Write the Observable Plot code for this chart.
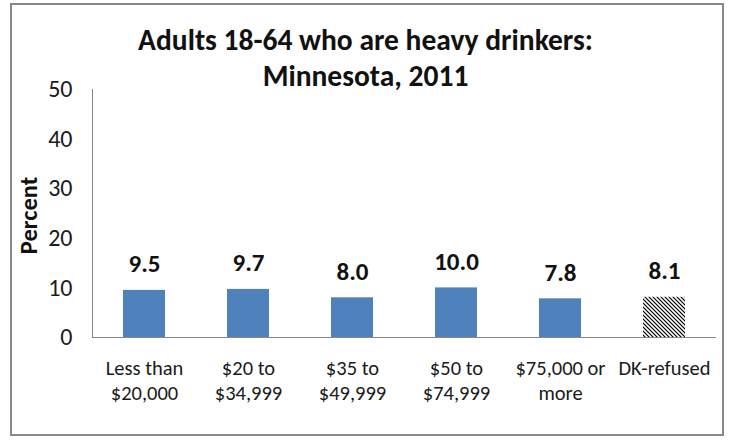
<!DOCTYPE html>
<html><head><meta charset="utf-8">
<script src="https://cdn.jsdelivr.net/npm/d3@7"></script>
<script src="https://cdn.jsdelivr.net/npm/@observablehq/plot@0.6"></script>
<style>
html,body{margin:0;padding:0;background:#fff;}
#wrap{position:relative;width:732px;height:443px;}
#border{position:absolute;left:10px;top:3px;width:710px;height:429px;border:2px solid #888;box-sizing:content-box;pointer-events:none;}
</style>
</head><body>
<div id="wrap"><div id="border"></div></div>
<script>
const categories = ["Less than\n$20,000", "$20 to\n$34,999", "$35 to\n$49,999", "$50 to\n$74,999", "$75,000 or\nmore", "DK-refused"];
const values = [9.5, 9.7, 8.0, 10.0, 7.8, 8.1];
const hatched = [false, false, false, false, false, true];
const yTicks = [0, 10, 20, 30, 40, 50];
const titleLines = "Adults 18-64 who are heavy drinkers:\nMinnesota, 2011";
const yLabel = "Percent";

const data = categories.map((c, i) => ({cat: c, value: values[i], hatch: hatched[i]}));
const font = "Carlito, Calibri, Lato, sans-serif";

const chart = Plot.plot({
  width: 732,
  height: 443,
  marginTop: 89,
  marginLeft: 92,
  marginRight: 16,
  marginBottom: 106,
  style: {fontFamily: font, color: "#111", background: "transparent"},
  x: {domain: categories, paddingInner: 0.596, paddingOuter: 0.298, label: null},
  y: {domain: [0, 50], label: null},
  marks: [
    Plot.frame({anchor: "left", stroke: "#868686"}),
    Plot.barY(data.filter(d => !d.hatch), {x: "cat", y: "value", fill: "#4F81BD"}),
    Plot.barY(data.filter(d => d.hatch), {x: "cat", y: "value", fill: "url(#hatch)"}),
    Plot.ruleY([0], {stroke: "#868686"}),
    Plot.axisY({ticks: yTicks, tickSize: 0, tickPadding: 20, fontSize: 24, fill: "#1a1a1a", label: null}),
    Plot.axisX({tickSize: 0, tickPadding: 20, fontSize: 20.5, lineHeight: 1.2, fill: "#1a1a1a", label: null}),
    Plot.text(data, {x: "cat", y: "value", text: d => d.value.toFixed(1), dy: -26, fontSize: 25, fontWeight: "bold", fill: "#111"}),
    Plot.text([yLabel], {frameAnchor: "left", textAnchor: "middle", dx: -63, dy: 2, rotate: -90, fontSize: 24.5, fontWeight: "bold", fill: "#111"}),
    Plot.text([titleLines], {frameAnchor: "top", lineAnchor: "top", dx: -39, dy: -64, lineHeight: 1.19, fontSize: 29.5, fontWeight: "bold", fill: "#111"})
  ]
});

const svg = d3.select(chart);
const defs = svg.insert("defs", ":first-child");
const pat = defs.append("pattern").attr("id", "hatch").attr("patternUnits", "userSpaceOnUse").attr("width", 4).attr("height", 4);
pat.append("rect").attr("width", 4).attr("height", 4).attr("fill", "#fff");
pat.append("path").attr("d", "M-1,-1L5,5M-1,3L1,5M3,-1L5,1").attr("stroke", "#000").attr("stroke-width", 1.2);

document.getElementById("wrap").appendChild(chart);
chart.style.position = "absolute";
chart.style.left = "0px";
chart.style.top = "0px";
</script>
</body></html>
